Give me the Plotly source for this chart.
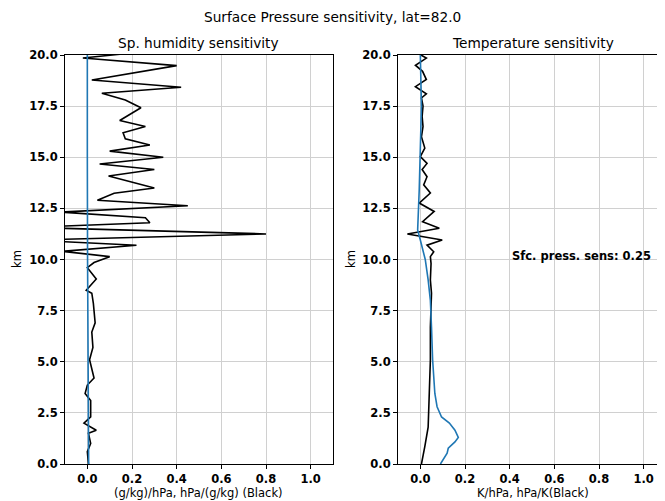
import plotly.graph_objects as go
from plotly.subplots import make_subplots

# Sp. humidity sensitivity (left panel)
q_km_black = [20.1, 19.85, 19.48, 18.78, 18.42, 18.13, 17.8, 17.42, 16.8, 16.5, 16.2, 15.9,
              15.6, 15.3, 15.0, 14.67, 14.4, 14.08, 13.5, 13.24, 12.9, 12.63, 12.32, 12.04,
              11.8, 11.57, 11.25, 10.95, 10.7, 10.4, 10.14, 9.85, 9.6, 9.05, 8.5, 8.35, 7.85,
              6.9, 6.45, 5.7, 5.1, 4.2, 3.86, 3.45, 3.1, 2.3, 2.0, 1.65, 1.5, 1.0, 0.6, 0.0]
q_sens_black = [0.20, -0.02, 0.40, 0.02, 0.42, 0.065, 0.17, 0.24, 0.145, 0.26, 0.16, 0.17,
                0.28, 0.10, 0.34, 0.055, 0.30, 0.095, 0.30, 0.12, 0.045, 0.45, -0.12, 0.26,
                0.28, -0.25, 0.80, -0.25, 0.22, -0.11, 0.10, 0.03, 0.0, 0.04, -0.005, 0.02, 0.027,
                0.035, 0.02, 0.025, 0.01, 0.03, 0.0, -0.01, 0.015, 0.015, -0.015, 0.04, 0.005, 0.015, 0.0, 0.005]
q_km_blue = [0.0, 2.5, 5.0, 10.0, 15.0, 20.0]
q_sens_blue = [0.006, 0.004, 0.003, 0.001, 0.0, 0.0]

# Temperature sensitivity (right panel)
t_km_black = [20.1, 20.0, 19.85, 19.5, 19.2, 18.8, 18.45, 18.1, 17.9, 17.5, 17.0, 16.5, 16.0,
              15.45, 15.03, 14.7, 14.4, 14.05, 13.65, 13.25, 12.76, 12.35, 11.85, 11.53, 11.25,
              10.95, 10.7, 10.38, 10.14, 9.8, 9.0, 8.35, 6.7, 5.1, 3.45, 1.8, 0.85, 0.0]
t_sens_black = [-0.005, 0.003, 0.027, -0.022, 0.01, 0.027, -0.022, 0.027, 0.005, 0.012, 0.008,
                0.012, 0.005, 0.02, 0.0, 0.03, 0.008, 0.03, 0.015, 0.045, -0.005, 0.062, 0.01,
                0.085, -0.058, 0.098, 0.03, 0.06, 0.045, 0.048, 0.045, 0.05, 0.045, 0.045, 0.04,
                0.035, 0.02, 0.005]
t_km_blue = [20.0, 17.5, 13.4, 11.9, 11.45, 10.95, 10.0, 9.0, 8.0, 6.7, 5.1, 3.45, 2.8, 2.3,
             2.0, 1.65, 1.3, 1.08, 0.77, 0.53, 0.1, 0.0]
t_sens_blue = [0.0, 0.005, -0.005, -0.01, -0.012, 0.0, 0.022, 0.035, 0.045, 0.05, 0.055, 0.065,
               0.075, 0.095, 0.13, 0.155, 0.17, 0.155, 0.125, 0.12, 0.095, 0.09]

x_ticks = [0.0, 0.2, 0.4, 0.6, 0.8, 1.0]
y_ticks = [0.0, 2.5, 5.0, 7.5, 10.0, 12.5, 15.0, 17.5, 20.0]

W, H = 665, 501
OFF = 8  # page body margin, positions below are in screenshot pixels
FONT = "DejaVu Sans"
BLACK = "#000000"
BLUE = "#1f77b4"


def px_x(p):
    return (p - OFF) / W


def px_y(p):
    return 1 - (p - OFF) / H


fig = make_subplots(rows=1, cols=2)

fig.add_trace(go.Scatter(x=q_sens_black, y=q_km_black, mode="lines",
                         line=dict(color=BLACK, width=1.6)), row=1, col=1)
fig.add_trace(go.Scatter(x=q_sens_blue, y=q_km_blue, mode="lines",
                         line=dict(color=BLUE, width=1.6)), row=1, col=1)
fig.add_trace(go.Scatter(x=t_sens_black, y=t_km_black, mode="lines",
                         line=dict(color=BLACK, width=1.6)), row=1, col=2)
fig.add_trace(go.Scatter(x=t_sens_blue, y=t_km_blue, mode="lines",
                         line=dict(color=BLUE, width=1.6)), row=1, col=2)

axis_common = dict(showline=True, linecolor=BLACK, linewidth=1, mirror=True,
                   ticks="outside", ticklen=4, tickcolor=BLACK, automargin=False,
                   showgrid=True, gridcolor="#d0d0d0", gridwidth=1, zeroline=False,
                   tickfont=dict(family=FONT, size=11.5, color=BLACK, weight="bold"))

fig.update_xaxes(range=[-0.1, 1.1], tickvals=x_ticks, tickformat=".1f", **axis_common)
fig.update_yaxes(range=[0, 20], tickvals=y_ticks, tickformat=".1f",
                 domain=[px_y(464), px_y(55)], **axis_common)
fig.update_xaxes(domain=[px_x(65), px_x(333)], row=1, col=1)
fig.update_xaxes(domain=[px_x(398), px_x(666)], row=1, col=2)


def label(text, px, py, size=11.5, angle=0):
    fig.add_annotation(x=px_x(px), y=px_y(py), xref="paper", yref="paper", text=text,
                       showarrow=False, textangle=angle, xanchor="center", yanchor="middle",
                       font=dict(family=FONT, size=size, color=BLACK))


label("Surface Pressure sensitivity, lat=82.0", 332, 17, size=13.7)
label("Sp. humidity sensitivity", 199, 43, size=13.7)
label("Temperature sensitivity", 533, 43, size=13.7)
label("(g/kg)/hPa, hPa/(g/kg) (Black)", 199, 493)
label("K/hPa, hPa/K(Black)", 533, 493)
label("km", 17, 259, angle=-90)
label("km", 351, 259, angle=-90)

fig.add_annotation(x=0.4, y=10.15, xref="x2", yref="y2", text="Sfc. press. sens: 0.25",
                   showarrow=False, xanchor="left", yanchor="middle",
                   font=dict(family=FONT, size=11.5, color=BLACK, weight="bold"))

fig.update_layout(
    width=W, height=H,
    margin=dict(l=0, r=0, t=0, b=0, autoexpand=False),
    showlegend=False,
    plot_bgcolor="white",
    paper_bgcolor="white",
)

fig.write_html("out.html")
